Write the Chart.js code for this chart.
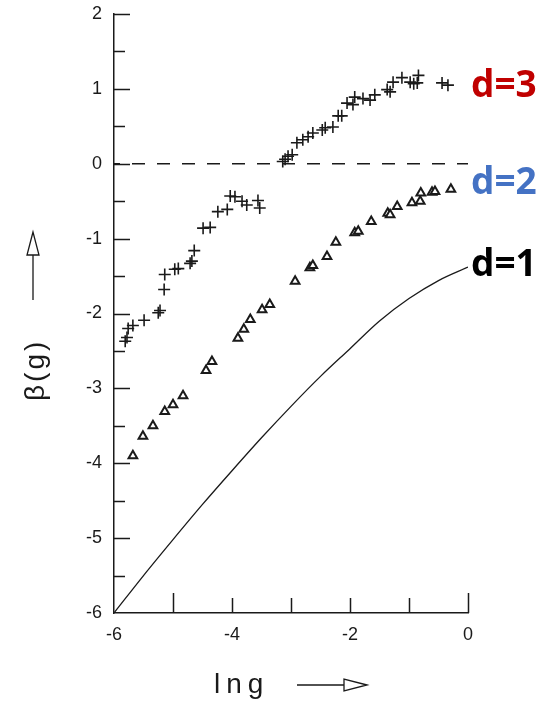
<!DOCTYPE html>
<html>
<head>
<meta charset="utf-8">
<script src="https://cdn.jsdelivr.net/npm/chart.js@4/dist/chart.umd.min.js"></script>
<style>
  body { margin: 0; background: #fff; }
  #wrap { position: relative; width: 557px; height: 705px; }
  .dlab { position: absolute; left: 471px; font-family: "Open Sans", sans-serif; font-weight: 700; font-size: 37px; line-height: 1; }
</style>
</head>
<body>
<div id="wrap">
  <canvas id="myChart" width="557" height="705"></canvas>
  <div class="dlab" style="top:64px;color:#c00000">d=3</div>
  <div class="dlab" style="top:161px;color:#4472c4">d=2</div>
  <div class="dlab" style="top:243px;color:#000">d=1</div>
</div>
<script>
// d=3 : crosses
const d3x = [-5.81, -5.78, -5.76, -5.68, -5.49, -5.25, -5.22, -5.15, -5.14, -4.97, -4.91, -4.71, -4.68, -4.64,
  -4.49, -4.37, -4.24, -4.08, -4.03, -3.95, -3.83, -3.75, -3.56, -3.53,
  -3.14, -3.10, -3.05, -2.98, -2.90, -2.80, -2.71, -2.63, -2.47, -2.42, -2.29, -2.20, -2.14, -2.05, -1.95,
  -1.92, -1.78, -1.66, -1.58, -1.37, -1.32, -1.27, -1.12, -0.98, -0.92, -0.86, -0.84, -0.44, -0.34];
const d3y = [-2.37, -2.32, -2.20, -2.16, -2.09, -1.99, -1.96, -1.68, -1.48, -1.41, -1.40, -1.33, -1.30, -1.16,
  -0.86, -0.85, -0.64, -0.61, -0.43, -0.44, -0.50, -0.55, -0.49, -0.59,
  0.03, 0.06, 0.10, 0.12, 0.28, 0.32, 0.36, 0.41, 0.45, 0.48, 0.49, 0.64, 0.64, 0.81, 0.79,
  0.89, 0.87, 0.85, 0.92, 0.99, 0.96, 1.09, 1.15, 1.09, 1.07, 1.08, 1.18, 1.08, 1.05];

// d=2 : triangles
const d2x = [-5.68, -5.51, -5.34, -5.14, -5.00, -4.83, -4.44, -4.34, -3.90, -3.80, -3.69, -3.49, -3.36,
  -2.93, -2.68, -2.63, -2.39, -2.24, -1.92, -1.86, -1.64, -1.36, -1.32, -1.20, -0.95, -0.81, -0.80,
  -0.61, -0.56, -0.29];
const d2y = [-3.90, -3.64, -3.50, -3.31, -3.22, -3.10, -2.76, -2.64, -2.33, -2.21, -2.08, -1.95, -1.88,
  -1.57, -1.39, -1.36, -1.24, -1.05, -0.92, -0.90, -0.77, -0.66, -0.68, -0.57, -0.52, -0.50, -0.39,
  -0.38, -0.37, -0.34];

// d=1 : solid curve
const d1x = [-6, -5.5, -5, -4.5, -4, -3.5, -3, -2.5, -2, -1.5, -1, -0.5, 0];
const d1y = [-6, -5.5, -5.02, -4.55, -4.1, -3.66, -3.24, -2.84, -2.47, -2.1, -1.8, -1.56, -1.38];

const xTicks = [-6, -5, -4, -3, -2, -1, 0];
const xTickLabels = ['-6', '', '-4', '', '-2', '', '0'];
const yTicks = [-6, -5, -4, -3, -2, -1, 0, 1, 2];

const pts = (xs, ys) => xs.map((x, i) => ({ x: x, y: ys[i] }));
const ink = '#1a1a1a';
const labelFont = { family: 'Liberation Sans, sans-serif', size: 18 };

// inward tick marks, axis arrows and axis titles
const decor = {
  id: 'decor',
  afterDraw(chart) {
    const ctx = chart.ctx;
    const xs = chart.scales.x, ys = chart.scales.y;
    const left = xs.left, bottom = ys.bottom;
    ctx.save();
    ctx.strokeStyle = ink;
    ctx.lineWidth = 1.5;
    ctx.beginPath();
    for (let v = -5.5; v <= 2; v += 0.5) {
      const py = Math.round(ys.getPixelForValue(v)) + 0.5;
      const len = Number.isInteger(v) ? 16 : 11;
      ctx.moveTo(left, py); ctx.lineTo(left + len, py);
    }
    xTicks.forEach(v => {
      if (v === -6) return;
      const px = Math.round(xs.getPixelForValue(v)) + 0.5;
      const len = (v === -5 || v === 0) ? 20 : 15;
      ctx.moveTo(px, bottom); ctx.lineTo(px, bottom - len);
    });
    ctx.stroke();

    // x title + arrow
    ctx.fillStyle = ink;
    ctx.font = '28px Liberation Sans, sans-serif';
    ctx.letterSpacing = '6px';
    ctx.textBaseline = 'alphabetic';
    ctx.fillText('lng', 214, 693);
    ctx.lineWidth = 1.3;
    ctx.beginPath();
    ctx.moveTo(297, 685); ctx.lineTo(344, 685);
    ctx.moveTo(367, 685); ctx.lineTo(344, 679); ctx.lineTo(344, 691); ctx.closePath();
    ctx.stroke();

    // y title + arrow
    ctx.save();
    ctx.translate(44, 401);
    ctx.rotate(-Math.PI / 2);
    ctx.letterSpacing = '3px';
    ctx.font = '28px Liberation Sans, sans-serif';
    ctx.fillText('\u03b2(g)', 0, 0);
    ctx.restore();
    ctx.beginPath();
    ctx.moveTo(33, 300); ctx.lineTo(33, 255);
    ctx.moveTo(33, 232); ctx.lineTo(27, 255); ctx.lineTo(39, 255); ctx.closePath();
    ctx.stroke();
    ctx.restore();
  }
};

new Chart(document.getElementById('myChart'), {
  type: 'scatter',
  data: {
    datasets: [
      {
        label: 'zero',
        data: pts([-6, 0], [0, 0]),
        showLine: true,
        borderColor: ink,
        borderWidth: 1.5,
        borderDash: [13, 12],
        borderDashOffset: -18,
        pointRadius: 0
      },
      {
        label: 'd=1',
        data: pts(d1x, d1y),
        showLine: true,
        borderColor: ink,
        borderWidth: 1.3,
        cubicInterpolationMode: 'monotone',
        pointRadius: 0
      },
      {
        label: 'd=2',
        data: pts(d2x, d2y),
        pointStyle: 'triangle',
        pointRadius: 5,
        borderColor: ink,
        borderWidth: 2,
        backgroundColor: '#fff'
      },
      {
        label: 'd=3',
        data: pts(d3x, d3y),
        pointStyle: 'cross',
        pointRadius: 6,
        borderColor: ink,
        borderWidth: 1.6
      }
    ]
  },
  options: {
    responsive: false,
    animation: false,
    layout: { padding: { top: 14, right: 89, left: 0, bottom: 0 } },
    plugins: { legend: { display: false }, tooltip: { enabled: false } },
    scales: {
      x: {
        type: 'linear', min: -6, max: 0,
        afterFit: s => { s.height = 92; s.paddingLeft = 0; s.paddingRight = 0; },
        afterBuildTicks: s => { s.ticks = xTicks.map(v => ({ value: v })); },
        grid: { display: false, drawTicks: false },
        border: { display: true, color: ink, width: 1.5 },
        ticks: {
          padding: 11, color: ink, font: labelFont, maxRotation: 0, autoSkip: false,
          callback: v => xTickLabels[xTicks.indexOf(v)]
        }
      },
      y: {
        type: 'linear', min: -6, max: 2,
        afterFit: s => { s.width = 114; s.paddingTop = 0; s.paddingBottom = 0; },
        afterBuildTicks: s => { s.ticks = yTicks.map(v => ({ value: v })); },
        grid: { display: false, drawTicks: false },
        border: { display: true, color: ink, width: 1.5 },
        ticks: { padding: 12, color: ink, font: labelFont, autoSkip: false }
      }
    }
  },
  plugins: [decor]
});
</script>
</body>
</html>
